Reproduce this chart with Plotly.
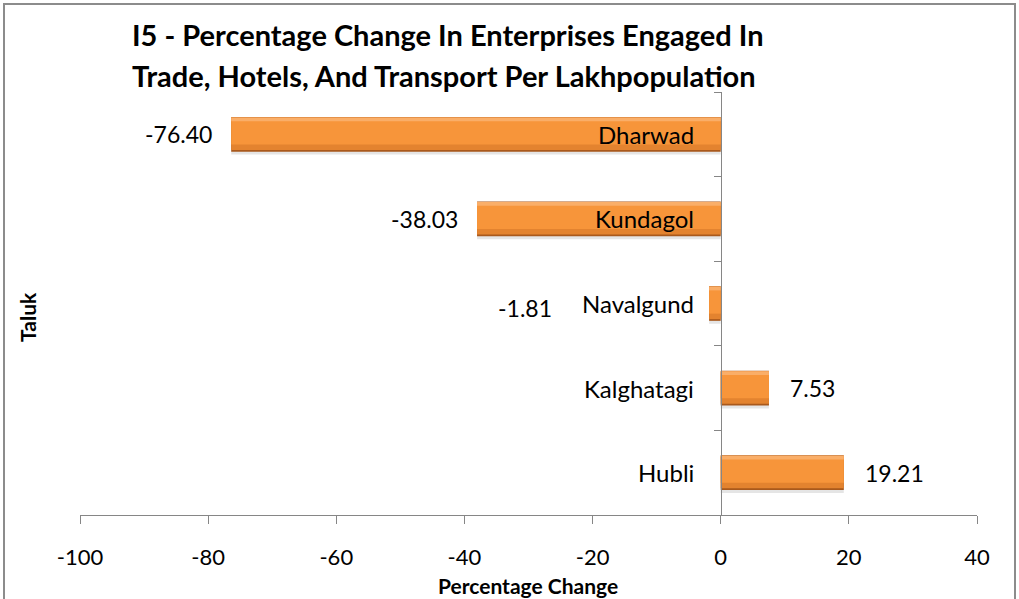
import plotly.graph_objects as go

categories = ["Dharwad", "Kundagol", "Navalgund", "Kalghatagi", "Hubli"]
values = [-76.40, -38.03, -1.81, 7.53, 19.21]
x_ticks = [-100, -80, -60, -40, -20, 0, 20, 40]

title_lines = ["I5 - Percentage Change In Enterprises Engaged In",
               "Trade, Hotels, And Transport Per Lakhpopulation"]
x_title = "Percentage Change"
y_title = "Taluk"

FONT = "Lato"
L, R, T, B = 80, 42, 92, 84
W, H = 1019, 599
pw, ph = W - L - R, H - T - B

x_min, x_max = -100, 40
zero_frac = (0 - x_min) / (x_max - x_min)


def bar_layer(color, width, offset):
    return go.Bar(y=categories, x=values, orientation="h", width=width, offset=offset,
                  marker=dict(color=color, line=dict(width=0)),
                  hoverinfo="skip", showlegend=False)


fig = go.Figure()
fig.add_trace(bar_layer("rgba(0,0,0,0.10)", 0.41, -0.24))    # soft shadow
fig.add_trace(bar_layer("#A9591C", 0.41, -0.205))            # dark bevel edge
fig.add_trace(bar_layer("#E3832F", 0.37, -0.185))            # lower body
fig.add_trace(bar_layer("#F7953A", 0.32, -0.12))             # main face
fig.add_trace(bar_layer("#FAAE68", 0.045, 0.155))            # top highlight

annotations = []
for c in categories:
    annotations.append(dict(x=0, y=c, xref="x", yref="y", text=c, showarrow=False,
                            xanchor="right", yanchor="middle", xshift=-25,
                            font=dict(family=FONT, size=24, color="#000000")))
special = {"Navalgund": (-155, -4)}
for c, v in zip(categories, values):
    xs, ys = special.get(c, (-17 if v < 0 else 19, 0))
    annotations.append(dict(x=v, y=c, xref="x", yref="y", text=f"{v:.2f}", showarrow=False,
                            xanchor="right" if v < 0 else "left", yanchor="middle",
                            xshift=xs, yshift=ys,
                            font=dict(family=FONT, size=23, color="#000000")))
for i, line in enumerate(title_lines):
    annotations.append(dict(x=(130 - L) / pw, y=(H - B - (35 + 40 * i)) / ph, xref="paper", yref="paper",
                            text=f"<b>{line}</b>", showarrow=False, xanchor="left", yanchor="middle",
                            font=dict(family=FONT, size=29, color="#000000")))
annotations.append(dict(x=(528 - L) / pw, y=(H - B - 585) / ph, xref="paper", yref="paper",
                        text=f"<b>{x_title}</b>", showarrow=False, xanchor="center", yanchor="middle",
                        font=dict(family=FONT, size=21, color="#000000")))
annotations.append(dict(x=(27 - L) / pw, y=(H - B - 317) / ph, xref="paper", yref="paper",
                        text=f"<b>{y_title}</b>", showarrow=False, textangle=-90,
                        xanchor="center", yanchor="middle",
                        font=dict(family=FONT, size=21, color="#000000")))

shapes = [dict(type="rect", xref="paper", yref="paper",
               x0=(4 - L) / pw, x1=(1015 - L) / pw, y0=(H - B - 610) / ph, y1=(H - B - 4) / ph,
               line=dict(color="#8C8C8C", width=2), fillcolor="rgba(0,0,0,0)", layer="below")]

fig.update_layout(
    width=W, height=H,
    margin=dict(l=L, r=R, t=T, b=B),
    paper_bgcolor="white", plot_bgcolor="white",
    barmode="overlay",
    showlegend=False,
    annotations=annotations, shapes=shapes,
    xaxis=dict(range=[x_min, x_max], tickvals=x_ticks, ticktext=[str(t) for t in x_ticks],
               showgrid=False, zeroline=False, showline=True, linecolor="#868686", linewidth=1.3,
               ticks="outside", ticklen=8, tickcolor="#868686", tickwidth=1.3,
               ticklabelstandoff=14,
               tickfont=dict(family=FONT, size=22, color="#000000"), fixedrange=True),
    yaxis=dict(categoryorder="array", categoryarray=categories[::-1],
               anchor="free", position=zero_frac, side="left",
               showgrid=False, zeroline=False, showline=True, linecolor="#868686", linewidth=1.3,
               ticks="outside", ticklen=7, tickcolor="#868686", tickwidth=1.3,
               tickson="boundaries", showticklabels=False, fixedrange=True),
)

fig.write_html("out.html", config={"displayModeBar": False},
               post_script="document.body.style.margin='0px';document.body.style.overflow='hidden';")
